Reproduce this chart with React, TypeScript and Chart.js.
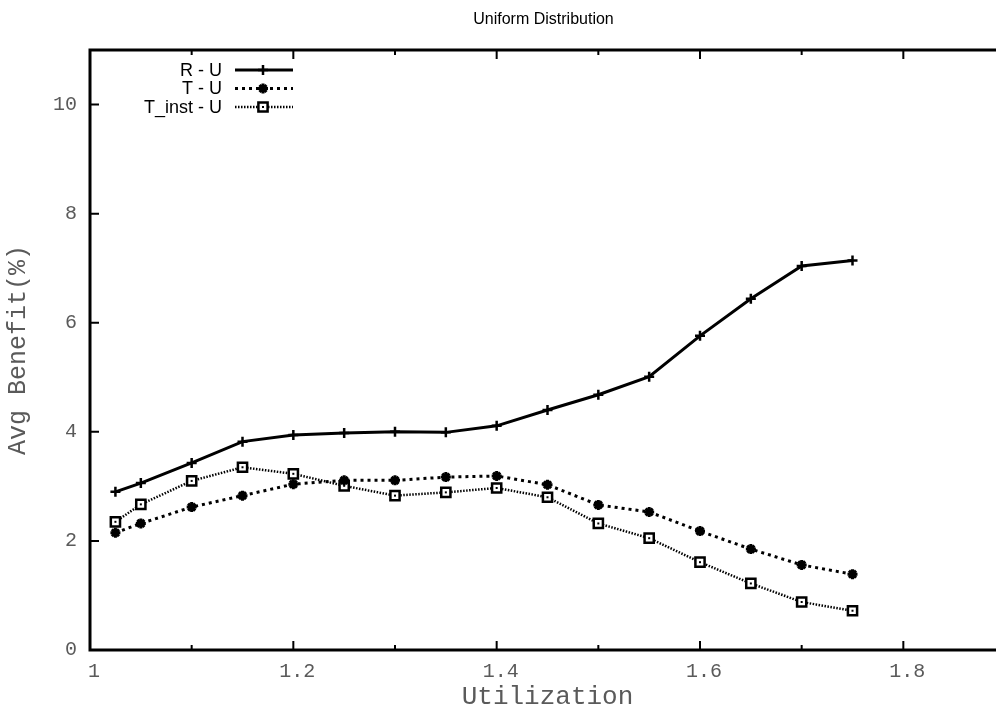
import React, { useEffect, useRef } from 'react';
import { Chart, registerables } from 'chart.js';

Chart.register(...registerables);

const chartTitle = 'Uniform Distribution';
const xAxisTitle = 'Utilization';
const yAxisTitle = 'Avg Benefit(%)';

const utilization = [1.025, 1.05, 1.1, 1.15, 1.2, 1.25, 1.3, 1.35, 1.4, 1.45, 1.5, 1.55, 1.6, 1.65, 1.7, 1.75];
const rU = [2.9, 3.06, 3.43, 3.82, 3.94, 3.98, 4.0, 3.99, 4.11, 4.4, 4.68, 5.01, 5.76, 6.44, 7.04, 7.14];
const tU = [2.15, 2.32, 2.62, 2.83, 3.04, 3.11, 3.11, 3.17, 3.19, 3.03, 2.66, 2.53, 2.18, 1.85, 1.56, 1.39];
const tInstU = [2.35, 2.67, 3.1, 3.35, 3.23, 3.01, 2.83, 2.89, 2.97, 2.8, 2.32, 2.05, 1.61, 1.22, 0.88, 0.72];

const seriesNames = ['R - U', 'T - U', 'T_inst - U'];

const xMin = 1;
const xMax = 1.9;
const yMin = 0;
const yMax = 11;

const toPoints = (ys: number[]) => ys.map((y, i) => ({ x: utilization[i], y }));

const MONO = '"Liberation Mono", "Courier New", monospace';
const SANS = '"Liberation Sans", Arial, sans-serif';
const TEXT_GREY = '#5a5a5a';

function drawMarker(ctx: CanvasRenderingContext2D, style: string, x: number, y: number) {
  ctx.save();
  ctx.strokeStyle = '#000';
  ctx.fillStyle = '#fff';
  ctx.setLineDash([]);
  if (style === 'cross') {
    ctx.lineWidth = 2.5;
    ctx.beginPath();
    ctx.moveTo(x - 5, y); ctx.lineTo(x + 5, y);
    ctx.moveTo(x, y - 5); ctx.lineTo(x, y + 5);
    ctx.stroke();
  } else if (style === 'star') {
    ctx.lineWidth = 3;
    ctx.beginPath();
    ctx.moveTo(x - 5, y); ctx.lineTo(x + 5, y);
    ctx.moveTo(x, y - 5); ctx.lineTo(x, y + 5);
    ctx.moveTo(x - 3.5, y - 3.5); ctx.lineTo(x + 3.5, y + 3.5);
    ctx.moveTo(x - 3.5, y + 3.5); ctx.lineTo(x + 3.5, y - 3.5);
    ctx.stroke();
  } else {
    ctx.lineWidth = 2.5;
    ctx.beginPath();
    ctx.rect(x - 4.6, y - 4.6, 9.2, 9.2);
    ctx.fill();
    ctx.stroke();
    ctx.fillStyle = '#000';
    ctx.fillRect(x - 1, y - 1, 2, 2);
  }
  ctx.restore();
}

const framePlugin = {
  id: 'frame',
  afterDatasetsDraw(chart: any) {
    const { ctx, chartArea } = chart;
    const { left, right, top, bottom } = chartArea;
    const xs = chart.scales.x;
    const ys = chart.scales.y;
    ctx.save();
    const meta = chart.getDatasetMeta(2);
    ctx.fillStyle = '#000';
    meta.data.forEach((p: any) => ctx.fillRect(p.x - 1, p.y - 1, 2, 2));
    ctx.strokeStyle = '#000';
    ctx.lineWidth = 2;
    ctx.setLineDash([]);
    ctx.beginPath();
    xs.ticks.forEach((t: any) => {
      const px = xs.getPixelForValue(t.value);
      const major = Math.round(t.value * 10) % 2 === 0;
      const len = major ? 9 : 5;
      ctx.moveTo(px, bottom); ctx.lineTo(px, bottom - len);
      ctx.moveTo(px, top); ctx.lineTo(px, top + len);
    });
    ys.ticks.forEach((t: any) => {
      const py = ys.getPixelForValue(t.value);
      ctx.moveTo(left, py); ctx.lineTo(left + 9, py);
      ctx.moveTo(right, py); ctx.lineTo(right - 9, py);
    });
    ctx.stroke();
    ctx.lineWidth = 3;
    ctx.strokeRect(left, top, right - left, bottom - top);
    ctx.restore();
  },
};

const legendPlugin = {
  id: 'customLegend',
  afterDraw(chart: any) {
    const { ctx, chartArea } = chart;
    const styles = ['cross', 'star', 'rect'];
    const dashes = [[], [3, 4], [1.5, 1.5]];
    ctx.save();
    ctx.font = `18px ${SANS}`;
    ctx.fillStyle = '#000';
    ctx.textAlign = 'right';
    ctx.textBaseline = 'middle';
    seriesNames.forEach((name, i) => {
      const y = chartArea.top + 20 + i * 18.5;
      ctx.fillText(name, chartArea.left + 132, y + 1);
      ctx.strokeStyle = '#000';
      ctx.lineWidth = i === 2 ? 2.5 : 3;
      ctx.setLineDash(dashes[i]);
      ctx.beginPath();
      ctx.moveTo(chartArea.left + 145, y);
      ctx.lineTo(chartArea.left + 203, y);
      ctx.stroke();
      drawMarker(ctx, styles[i], chartArea.left + 173, y);
    });
    ctx.restore();
  },
};

const titlePlugin = {
  id: 'customTitle',
  afterDraw(chart: any) {
    const { ctx, chartArea } = chart;
    ctx.save();
    ctx.font = `16px ${SANS}`;
    ctx.fillStyle = '#000';
    ctx.textAlign = 'center';
    ctx.textBaseline = 'middle';
    ctx.fillText(chartTitle, (chartArea.left + chartArea.right) / 2 - 4, 20);
    ctx.restore();
  },
};

export default function App() {
  const ref = useRef<HTMLCanvasElement>(null);
  useEffect(() => {
    const chart = new Chart(ref.current!, {
      type: 'line',
      data: {
        datasets: [
          {
            label: seriesNames[0],
            data: toPoints(rU),
            borderColor: '#000',
            borderWidth: 3,
            pointStyle: 'cross',
            pointRadius: 5,
            pointBorderWidth: 2.5,
            pointBorderColor: '#000',
            fill: false,
            tension: 0,
          },
          {
            label: seriesNames[1],
            data: toPoints(tU),
            borderColor: '#000',
            borderWidth: 3,
            borderDash: [3, 4],
            pointStyle: 'star',
            pointRadius: 5,
            pointBorderWidth: 3,
            pointBorderColor: '#000',
            fill: false,
            tension: 0,
          },
          {
            label: seriesNames[2],
            data: toPoints(tInstU),
            borderColor: '#000',
            borderWidth: 2.5,
            borderDash: [1.5, 1.5],
            pointStyle: 'rect',
            pointRadius: 6.5,
            pointBorderWidth: 2.5,
            pointBorderColor: '#000',
            pointBackgroundColor: '#fff',
            fill: false,
            tension: 0,
          },
        ],
      },
      options: {
        responsive: false,
        animation: false,
        events: [],
        layout: { padding: { top: 50, right: 25, left: 0, bottom: 0 } },
        plugins: { legend: { display: false }, tooltip: { enabled: false }, title: { display: false } },
        scales: {
          x: {
            type: 'linear',
            min: xMin,
            max: xMax,
            grid: { display: false, drawTicks: false },
            border: { display: false },
            ticks: {
              stepSize: 0.1,
              includeBounds: false,
              padding: 10,
              labelOffset: 4,
              color: TEXT_GREY,
              font: { family: MONO, size: 20 },
              maxRotation: 0,
              autoSkip: false,
              callback: (v: any) => {
                const r = Math.round(Number(v) * 10);
                return r % 2 === 0 ? String(r / 10) : '';
              },
            },
            title: {
              display: true,
              text: xAxisTitle,
              color: TEXT_GREY,
              font: { family: MONO, size: 26 },
              padding: { top: 0, bottom: 2 },
            },
            afterFit: (s: any) => { s.height = 65; },
          },
          y: {
            type: 'linear',
            min: yMin,
            max: yMax,
            grid: { display: false, drawTicks: false },
            border: { display: false },
            ticks: {
              stepSize: 2,
              includeBounds: false,
              padding: 13,
              color: TEXT_GREY,
              font: { family: MONO, size: 20 },
            },
            title: {
              display: true,
              text: yAxisTitle,
              color: TEXT_GREY,
              font: { family: MONO, size: 25 },
              padding: { top: 3, bottom: 0 },
            },
            afterFit: (s: any) => { s.width = 90; },
          },
        },
      },
      plugins: [framePlugin, legendPlugin, titlePlugin],
    });
    return () => chart.destroy();
  }, []);
  return (
    <div style={{ position: 'fixed', left: 0, top: 0, width: 996, height: 715, overflow: 'hidden', background: '#fff' }}>
      <canvas ref={ref} width={1030} height={715} style={{ display: 'block', width: 1030, height: 715 }} />
    </div>
  );
}
